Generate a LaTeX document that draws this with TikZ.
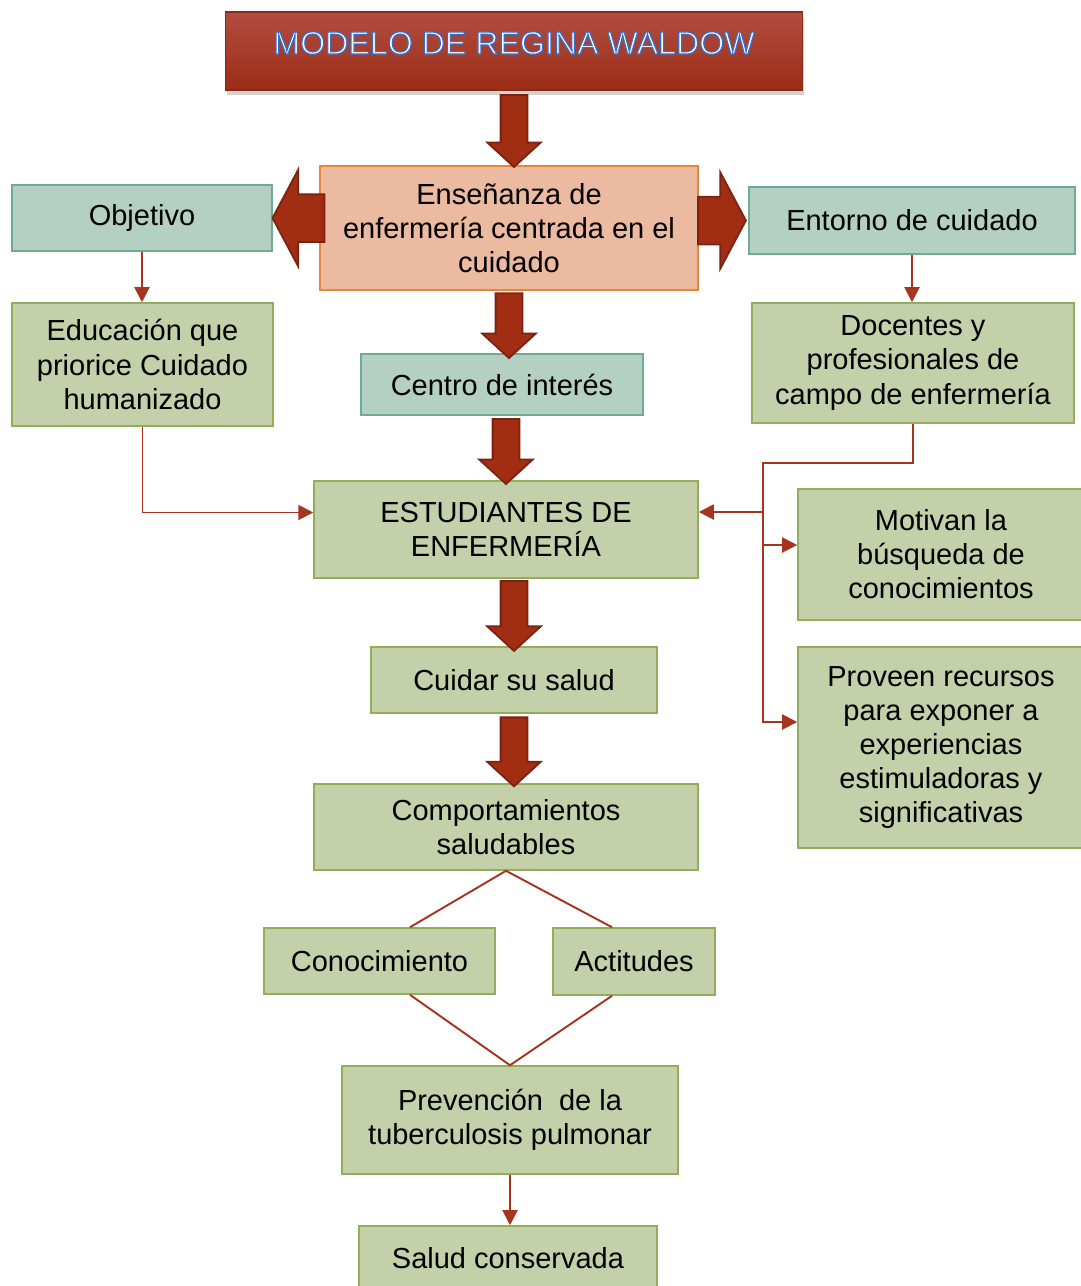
\documentclass[tikz,border=0pt]{standalone}
\usepackage{fontspec}
\setmainfont{Liberation Sans}
\usetikzlibrary{shapes.arrows,shadows,arrows.meta}

\definecolor{mintfill}{HTML}{B3D0C3}
\definecolor{mintline}{HTML}{6FAA94}
\definecolor{leaffill}{HTML}{C3D0A9}
\definecolor{leafline}{HTML}{91AE5A}
\definecolor{corefill}{HTML}{EBBAA0}
\definecolor{coreline}{HTML}{E3883A}
\definecolor{arrowfill}{HTML}{A12E12}
\definecolor{arrowline}{HTML}{7B2210}
\definecolor{linkred}{HTML}{A63520}
\definecolor{titletop}{HTML}{B34D40}
\definecolor{titlebot}{HTML}{9B2C16}
\definecolor{titleline}{HTML}{8C2A18}

\begin{document}
\begin{tikzpicture}[x=0.02cm,y=-0.02cm]
	\tikzstyle{every node}=[font=\fontsize{16.5}{19.4}\selectfont, align=center]
	\tikzstyle{box}=[rectangle, draw, line width=0.9pt, inner sep=0pt]
	\tikzstyle{mint}=[box, fill=mintfill, draw=mintline]
	\tikzstyle{leaf}=[box, fill=leaffill, draw=leafline]
	\tikzstyle{core}=[box, fill=corefill, draw=coreline]
	\tikzstyle{titlebox}=[rectangle, minimum width=11.56cm, minimum height=1.56cm, top color=titletop, bottom color=titlebot, draw=titleline, line width=0.6pt, drop shadow={shadow xshift=0.3mm, shadow yshift=-1.1mm, opacity=0.35}]
	\tikzstyle{titletext}=[font=\fontsize{18.3}{20}\selectfont, text=white]
	\tikzstyle{downarrow}=[single arrow, fill=arrowfill, draw=arrowline, line width=1pt, inner xsep=0pt, inner ysep=0.25cm, single arrow head extend=0.27cm, single arrow tip angle=95, sloped, allow upside down]
	\tikzstyle{sidearrow}=[downarrow, inner ysep=0.46cm, single arrow head extend=0.49cm, single arrow tip angle=124]
	\tikzstyle{link}=[draw=linkred, line width=1.1pt]
	\tikzstyle{linkarrow}=[link, -{Triangle[length=0.3cm,width=0.3cm]}]

	\useasboundingbox (0,0) rectangle (1080,1286);

	\node[titlebox] (title) at (514,51) {};
	\node[titletext] (titletxt) at (514,43) {\special{pdf:literal direct 2 Tr 0.7 w 0.227 0.427 0.773 RG}MODELO DE REGINA WALDOW\special{pdf:literal direct 0 Tr}};

	\node[core, minimum width=7.56cm, minimum height=2.48cm] (ens) at (509,228) {Enseñanza de\\enfermería centrada en el\\cuidado};
	\node[mint, minimum width=5.2cm, minimum height=1.32cm] (obj) at (142,218) {Objetivo};
	\node[mint, minimum width=6.52cm, minimum height=1.34cm] (ent) at (912,220.5) {Entorno de cuidado};
	\node[leaf, minimum width=5.22cm, minimum height=2.46cm] (edu) at (142.5,364.5) {Educación que\\priorice Cuidado\\humanizado};
	\node[mint, minimum width=5.64cm, minimum height=1.22cm] (centro) at (502,384.5) {Centro de interés};
	\node[leaf, minimum width=6.44cm, minimum height=2.4cm] (doc) at (913,363) {Docentes y\\profesionales de\\campo de enfermería};
	\node[leaf, minimum width=7.68cm, minimum height=1.94cm] (est) at (506,529.5) {ESTUDIANTES DE\\ENFERMERÍA};
	\node[leaf, minimum width=5.72cm, minimum height=2.62cm] (mot) at (941,554.5) {Motivan la\\búsqueda de\\conocimientos};
	\node[leaf, minimum width=5.72cm, minimum height=4.02cm] (prov) at (941,747.5) {Proveen recursos\\para exponer a\\experiencias\\estimuladoras y\\significativas};
	\node[leaf, minimum width=5.72cm, minimum height=1.32cm] (cuidar) at (514,680) {Cuidar su salud};
	\node[leaf, minimum width=7.68cm, minimum height=1.72cm] (comp) at (506,827) {Comportamientos\\saludables};
	\node[leaf, minimum width=4.62cm, minimum height=1.32cm] (con) at (379.5,961) {Conocimiento};
	\node[leaf, minimum width=3.24cm, minimum height=1.34cm] (act) at (634,961.5) {Actitudes};
	\node[leaf, minimum width=6.72cm, minimum height=2.16cm] (prev) at (510,1120) {Prevención~ de la\\tuberculosis pulmonar};
	\node[leaf, minimum width=5.96cm, minimum height=1.28cm] (salud) at (508,1258) {Salud conservada};

	\path (title.south) -- node[downarrow, minimum height=1.44cm, pos=0.46] (a1) {} (title.south |- ens.north);
	\path (ens.south) -- node[downarrow, minimum height=1.3cm, pos=0.46] (a2) {} (ens.south |- centro.north);
	\path (est.north |- centro.south) -- node[downarrow, minimum height=1.3cm, pos=0.46] (a3) {} (est.north);
	\path (cuidar.north |- est.south) -- node[downarrow, minimum height=1.4cm, pos=0.46] (a4) {} (cuidar.north);
	\path (cuidar.south) -- node[downarrow, minimum height=1.38cm, pos=0.46] (a5) {} (cuidar.south |- comp.north);
	\path (ens.west |- obj.east) -- node[sidearrow, minimum height=1.04cm, pos=0.31] (a6) {} (obj.east);
	\path (ens.east |- ent.west) -- node[sidearrow, minimum height=0.96cm, pos=0.34] (a7) {} (ent.west);

	\coordinate (bus) at (763,463);
	\draw[linkarrow] (obj.south) -- (obj.south |- edu.north);
	\draw[linkarrow] (ent.south) -- (ent.south |- doc.north);
	\draw[linkarrow] (edu.south) |- ([yshift=0.34cm]est.west);
	\draw[linkarrow] (doc.south) |- (bus) |- ([yshift=0.51cm]prov.west);
	\draw[linkarrow] ([yshift=0.19cm]mot.west -| bus) -- ([yshift=0.19cm]mot.west);
	\draw[linkarrow] ([yshift=0.35cm]est.east -| bus) -- ([yshift=0.35cm]est.east);
	\draw[link] ([xshift=0.61cm]con.north) -- (comp.south) -- ([xshift=-0.44cm]act.north);
	\draw[link] ([xshift=0.61cm]con.south) -- (prev.north) -- ([xshift=-0.44cm]act.south);
	\draw[linkarrow] (prev.south) -- (prev.south |- salud.north);
\end{tikzpicture}
\end{document}
